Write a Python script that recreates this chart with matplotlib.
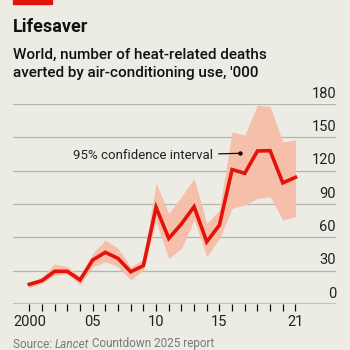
import matplotlib.pyplot as plt
import matplotlib.patches as mpatches

years = list(range(2000, 2022))
deaths = [17.7, 21, 29.4, 29.4, 21.6, 39.6, 46.5, 41, 29, 34.5, 87, 59, 72, 87.6,
          56, 71, 121, 117.6, 137.7, 138, 109, 114]
upper = [19, 24.6, 36, 33.6, 25, 45.6, 57.6, 50, 33.6, 40, 108.6, 81.6, 96.6, 113,
         72.6, 84.6, 155, 152, 179, 177.6, 146, 147.6]
lower = [14.7, 18.6, 26, 27, 17, 33.6, 38, 33.6, 21.6, 30.6, 74, 41, 50, 75.6,
         42.6, 59, 86, 89, 95, 96.6, 75.6, 78.6]
yticks = [0, 30, 60, 90, 120, 150, 180]
xtick_pos = [2000, 2005, 2010, 2015, 2021]
xtick_lab = ['2000', '05', '10', '15', '21']

bg = '#ECEBE4'
red = '#E3120B'
plt.rcParams['font.family'] = ['Roboto', 'DejaVu Sans']

fig = plt.figure(figsize=(3.5, 3.5), dpi=100, facecolor=bg)
ax = fig.add_axes([13/350, 1 - 304/350, 323/350, 200/350])
ax.set_facecolor(bg)

ax.fill_between(years, lower, upper, color='#F6BFA9', lw=0, zorder=2)
ax.plot(years, deaths, color=red, lw=2.6, zorder=3, solid_joinstyle='miter')

ax.set_xlim(1998.71, 2024.2)
ax.set_ylim(0, 180)
for v in yticks:
    if v:
        ax.axhline(v, color='#B5B5B0', lw=0.9, zorder=1)
    ax.text(1.0, v + 3, str(v), transform=ax.get_yaxis_transform(), ha='right',
            va='bottom', fontsize=10.5, color='#222222')
ax.axhline(0, color='#111111', lw=1.0, zorder=4)

for s in ax.spines.values():
    s.set_visible(False)
ax.set_yticks([])
ax.set_xticks(years, minor=True)
ax.set_xticks(xtick_pos)
ax.set_xticklabels(xtick_lab, fontsize=10.5, color='#222222')
ax.tick_params(axis='x', which='both', length=5, width=0.9, color='#111111', pad=3)

ax.annotate('95% confidence interval', xy=(2016.63, 135.6), xytext=(2014.5, 133.5),
            ha='right', va='center', fontsize=9.5, color='#222222',
            arrowprops=dict(arrowstyle='-', color='#111111', lw=0.9, shrinkA=2, shrinkB=0))
ax.plot([2016.63], [135.6], 'o', color='#111111', ms=2.2, zorder=5)

fig.patches.append(mpatches.Rectangle((13/350, 1 - 4/350), 39/350, 4/350,
                                      transform=fig.transFigure, color=red))
fig.text(13/350, 1 - 27/350, 'Lifesaver', fontsize=13, fontweight='bold',
         va='center', color='#111111')
fig.text(13/350, 1 - 64/350, "World, number of heat-related deaths\naverted by air-conditioning use, '000",
         fontsize=11, fontweight='medium', va='center', linespacing=1.3, color='#111111')

# source line with italic "Lancet"
r = fig.canvas.get_renderer()
xpos = 13
for part, style in [('Source: ', 'normal'), ('Lancet', 'italic'), (' Countdown 2025 report', 'normal')]:
    t = fig.text(xpos/350, 1 - 344/350, part, fontsize=8.5, style=style,
                 color='#7A7A7A', va='center')
    xpos += t.get_window_extent(renderer=r).width

fig.savefig('out.png', dpi=100, facecolor=bg)
